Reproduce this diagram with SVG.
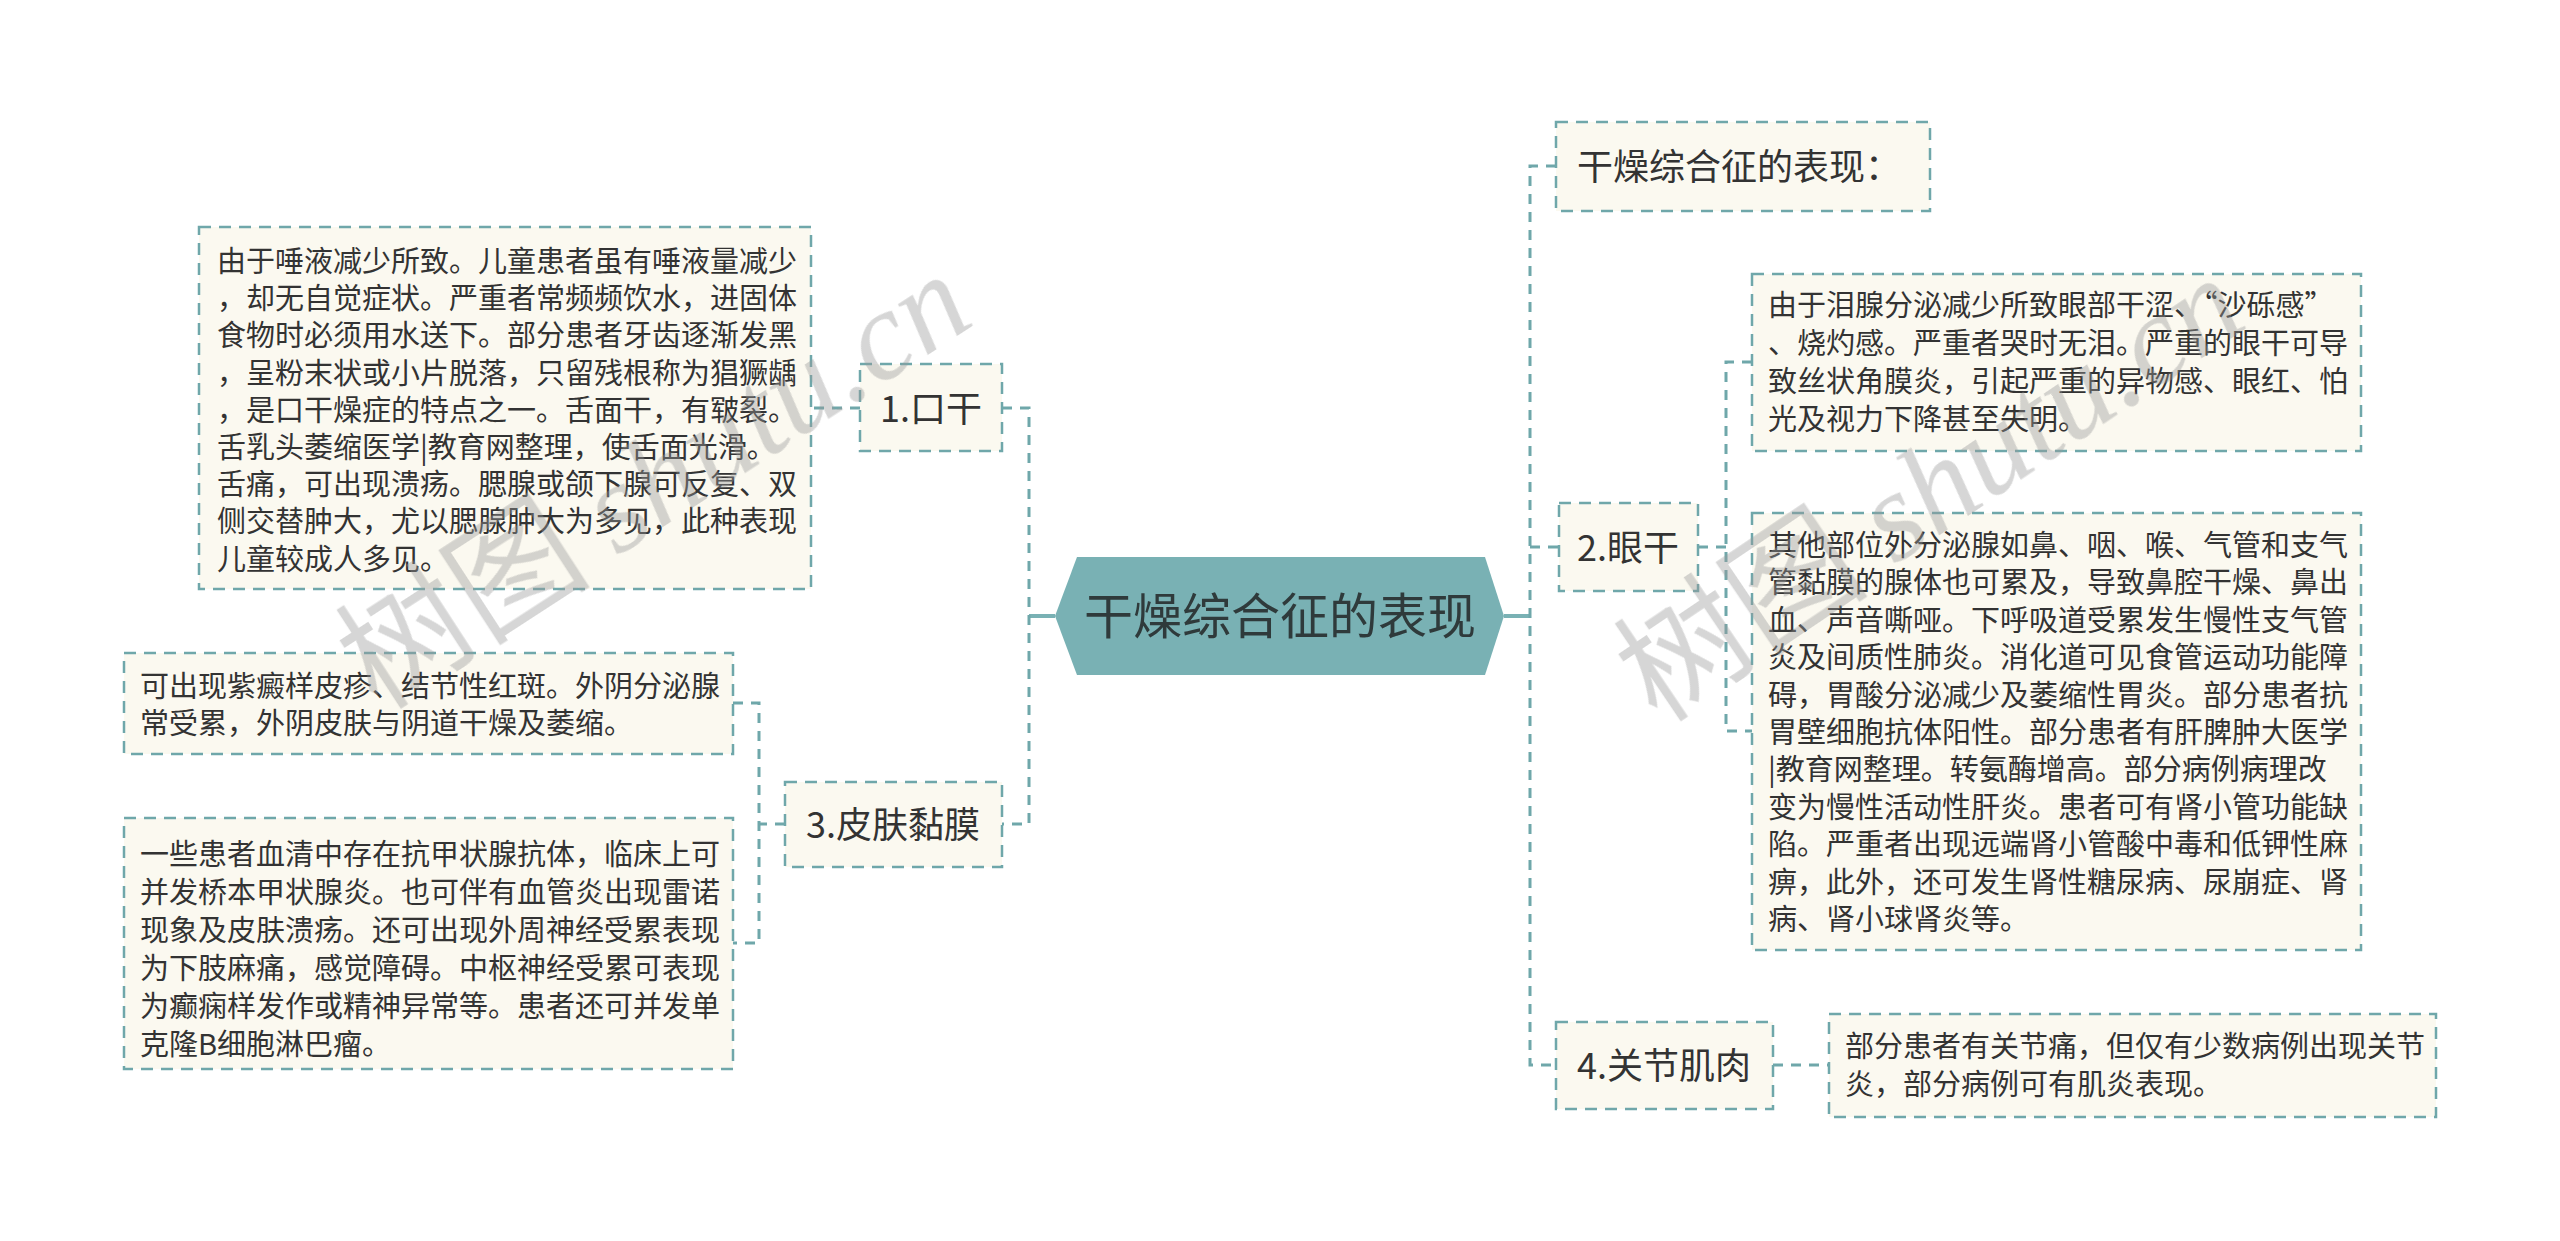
<svg xmlns="http://www.w3.org/2000/svg" width="2560" height="1241" viewBox="0 0 2560 1241">
<style>
.bg{fill:#ffffff}
.box{fill:#FBF9F0;stroke:#6FA7AA;stroke-width:2.5;stroke-dasharray:12 8}
.dash{fill:none;stroke:#6FA7AA;stroke-width:3;stroke-dasharray:10 8}
.solid{fill:none;stroke:#79B1B4;stroke-width:4}
.t{font-family:"Noto Sans CJK SC","Noto Sans",sans-serif;fill:#333333}
.d{font-size:29px}
.n{font-size:36px}
.c{font-size:49px;fill:#2f3a3b}
.wm{fill:#9a9a9a;opacity:0.4}
</style>
<rect class="bg" x="0" y="0" width="2560" height="1241"/>
<g id="connectors">
  <path class="solid" d="M1029 616 H1055 M1504 616 H1530"/>
  <path class="dash" d="M1002 408 H1029 V824 H1002"/>
  <path class="dash" d="M860 408 H811"/>
  <path class="dash" d="M785 824 H759 M733 703 H759 V943 H733"/>
  <path class="dash" d="M1556 166 H1530 V1065 H1556 M1530 547 H1559"/>
  <path class="dash" d="M1698 547 H1726 M1752 362 H1726 V731 H1752"/>
  <path class="dash" d="M1773 1065 H1829"/>
</g>
<g id="center">
  <polygon points="1055,616 1077,557 1485,557 1504,616 1485,675 1077,675" fill="#79B1B4"/>
  <text class="t c" x="1280" y="634" text-anchor="middle">干燥综合征的表现</text>
</g>
<g id="node-kougan">
  <rect class="box" x="860" y="364" width="142" height="87"/>
  <text class="t n" x="931" y="422" text-anchor="middle">1.口干</text>
</g>
<g id="box-kougan-detail">
  <rect class="box" x="199" y="227" width="612" height="362"/>
  <text class="t d">
    <tspan x="217" y="272">由于唾液减少所致。儿童患者虽有唾液量减少</tspan>
    <tspan x="217" y="309">，却无自觉症状。严重者常频频饮水，进固体</tspan>
    <tspan x="217" y="346">食物时必须用水送下。部分患者牙齿逐渐发黑</tspan>
    <tspan x="217" y="384">，呈粉末状或小片脱落，只留残根称为猖獗龋</tspan>
    <tspan x="217" y="421">，是口干燥症的特点之一。舌面干，有皲裂。</tspan>
    <tspan x="217" y="458">舌乳头萎缩医学|教育网整理，使舌面光滑。</tspan>
    <tspan x="217" y="495">舌痛，可出现溃疡。腮腺或颌下腺可反复、双</tspan>
    <tspan x="217" y="532">侧交替肿大，尤以腮腺肿大为多见，此种表现</tspan>
    <tspan x="217" y="570">儿童较成人多见。</tspan>
  </text>
</g>
<g id="node-pifu">
  <rect class="box" x="785" y="782" width="217" height="85"/>
  <text class="t n" x="893" y="838" text-anchor="middle">3.皮肤黏膜</text>
</g>
<g id="box-pifu-1">
  <rect class="box" x="124" y="653" width="609" height="101"/>
  <text class="t d">
    <tspan x="140" y="697">可出现紫癜样皮疹、结节性红斑。外阴分泌腺</tspan>
    <tspan x="140" y="734">常受累，外阴皮肤与阴道干燥及萎缩。</tspan>
  </text>
</g>
<g id="box-pifu-2">
  <rect class="box" x="124" y="818" width="609" height="251"/>
  <text class="t d">
    <tspan x="140" y="865">一些患者血清中存在抗甲状腺抗体，临床上可</tspan>
    <tspan x="140" y="903">并发桥本甲状腺炎。也可伴有血管炎出现雷诺</tspan>
    <tspan x="140" y="941">现象及皮肤溃疡。还可出现外周神经受累表现</tspan>
    <tspan x="140" y="979">为下肢麻痛，感觉障碍。中枢神经受累可表现</tspan>
    <tspan x="140" y="1017">为癫痫样发作或精神异常等。患者还可并发单</tspan>
    <tspan x="140" y="1055">克隆B细胞淋巴瘤。</tspan>
  </text>
</g>
<g id="node-biaoxian">
  <rect class="box" x="1556" y="122" width="374" height="89"/>
  <text class="t n" x="1577" y="180">干燥综合征的表现：</text>
</g>
<g id="node-yangan">
  <rect class="box" x="1559" y="503" width="139" height="88"/>
  <text class="t n" x="1628" y="561" text-anchor="middle">2.眼干</text>
</g>
<g id="box-yangan-1">
  <rect class="box" x="1752" y="274" width="609" height="177"/>
  <text class="t d">
    <tspan x="1768" y="316">由于泪腺分泌减少所致眼部干涩、“沙砾感”</tspan>
    <tspan x="1768" y="354">、烧灼感。严重者哭时无泪。严重的眼干可导</tspan>
    <tspan x="1768" y="392">致丝状角膜炎，引起严重的异物感、眼红、怕</tspan>
    <tspan x="1768" y="430">光及视力下降甚至失明。</tspan>
  </text>
</g>
<g id="box-yangan-2">
  <rect class="box" x="1752" y="513" width="609" height="437"/>
  <text class="t d">
    <tspan x="1768" y="556">其他部位外分泌腺如鼻、咽、喉、气管和支气</tspan>
    <tspan x="1768" y="593">管黏膜的腺体也可累及，导致鼻腔干燥、鼻出</tspan>
    <tspan x="1768" y="631">血、声音嘶哑。下呼吸道受累发生慢性支气管</tspan>
    <tspan x="1768" y="668">炎及间质性肺炎。消化道可见食管运动功能障</tspan>
    <tspan x="1768" y="706">碍，胃酸分泌减少及萎缩性胃炎。部分患者抗</tspan>
    <tspan x="1768" y="743">胃壁细胞抗体阳性。部分患者有肝脾肿大医学</tspan>
    <tspan x="1768" y="780">|教育网整理。转氨酶增高。部分病例病理改</tspan>
    <tspan x="1768" y="818">变为慢性活动性肝炎。患者可有肾小管功能缺</tspan>
    <tspan x="1768" y="855">陷。严重者出现远端肾小管酸中毒和低钾性麻</tspan>
    <tspan x="1768" y="893">痹，此外，还可发生肾性糖尿病、尿崩症、肾</tspan>
    <tspan x="1768" y="930">病、肾小球肾炎等。</tspan>
  </text>
</g>
<g id="node-guanjie">
  <rect class="box" x="1556" y="1022" width="217" height="87"/>
  <text class="t n" x="1664" y="1079" text-anchor="middle">4.关节肌肉</text>
</g>
<g id="box-guanjie">
  <rect class="box" x="1829" y="1014" width="607" height="103"/>
  <text class="t d">
    <tspan x="1845" y="1057">部分患者有关节痛，但仅有少数病例出现关节</tspan>
    <tspan x="1845" y="1095">炎，部分病例可有肌炎表现。</tspan>
  </text>
</g>
<g id="watermarks" class="wm">
  <text transform="translate(378,712) rotate(-33)" font-size="128"><tspan font-family="Noto Sans CJK SC,sans-serif">树图 </tspan><tspan font-family="Liberation Serif,serif" font-style="italic">shutu.cn</tspan></text>
  <text transform="translate(1658,725) rotate(-34)" font-size="128"><tspan font-family="Noto Sans CJK SC,sans-serif">树图 </tspan><tspan font-family="Liberation Serif,serif" font-style="italic">shutu.cn</tspan></text>
</g>
</svg>
